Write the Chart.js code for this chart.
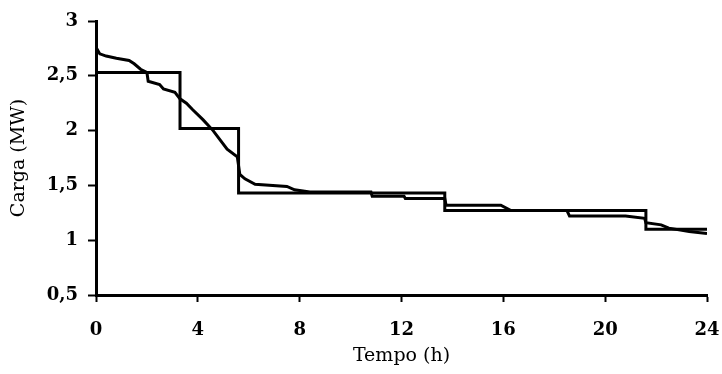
<!DOCTYPE html>
<html>
<head>
<meta charset="utf-8">
<script src="https://cdn.jsdelivr.net/npm/chart.js@4"></script>
<style>
html, body { margin: 0; padding: 0; background: #fff; }
#wrap { width: 722px; height: 374px; }
</style>
</head>
<body>
<div id="wrap"><canvas id="cargaChart" width="722" height="374"></canvas></div>
<script>
// patamares de carga (blocos)
const blocoHoras = [0, 3.3, 5.6, 13.7, 21.6, 24];
const blocoCarga = [2.53, 2.02, 1.43, 1.27, 1.10, 1.10];

// curva de carga
const curvaHoras = [0, 0.15, 0.4, 0.8, 1.3, 1.5, 1.75, 2.0, 2.05, 2.5, 2.65, 3.1, 3.3, 3.55, 3.8, 4.2, 4.6, 5.15, 5.55, 5.65, 5.85, 6.25, 7.5, 7.8, 8.4, 10.8, 10.85, 12.1, 12.15, 13.7, 13.75, 15.9, 16.3, 18.5, 18.6, 20.8, 21.55, 21.6, 22.2, 22.5, 23.3, 24];
const curvaCarga = [2.76, 2.70, 2.68, 2.66, 2.64, 2.61, 2.56, 2.53, 2.45, 2.42, 2.38, 2.35, 2.29, 2.25, 2.19, 2.10, 2.00, 1.83, 1.76, 1.60, 1.56, 1.51, 1.49, 1.46, 1.44, 1.44, 1.40, 1.40, 1.38, 1.38, 1.32, 1.32, 1.27, 1.27, 1.22, 1.22, 1.20, 1.16, 1.14, 1.11, 1.08, 1.06];

const xTicks = [0, 4, 8, 12, 16, 20, 24];
const yTicks = [0.5, 1, 1.5, 2, 2.5, 3];

const toPts = (xs, ys) => xs.map((x, i) => ({ x: x, y: ys[i] }));

const fonte = "'DejaVu Serif', 'Liberation Serif', serif";

const ctx = document.getElementById("cargaChart");

new Chart(ctx, {
  type: "line",
  data: {
    datasets: [
      {
        label: "Blocos",
        data: toPts(blocoHoras, blocoCarga),
        stepped: "before",
        borderColor: "#000",
        borderWidth: 3,
        pointRadius: 0,
        fill: false
      },
      {
        label: "Carga",
        data: toPts(curvaHoras, curvaCarga),
        borderColor: "#000",
        borderWidth: 3,
        pointRadius: 0,
        tension: 0,
        fill: false
      }
    ]
  },
  options: {
    responsive: false,
    animation: false,
    layout: { padding: { left: 0, top: 21, right: 15, bottom: 0 } },
    plugins: {
      legend: { display: false },
      tooltip: { enabled: false }
    },
    scales: {
      x: {
        type: "linear",
        min: 0,
        max: 24,
        afterBuildTicks: s => { s.ticks = xTicks.map(v => ({ value: v })); },
        afterFit: s => { s.height = 79; s.paddingLeft = 0; s.paddingRight = 0; },
        grid: { drawOnChartArea: false, drawTicks: true, tickLength: 7, tickWidth: 2, color: "#000" },
        border: { display: true, color: "#000", width: 3 },
        ticks: { color: "#000", padding: 18, maxRotation: 0, font: { family: fonte, size: 18, weight: "bold" } },
        title: { display: true, text: "Tempo (h)", color: "#000", padding: { top: 0, bottom: 7 }, font: { family: fonte, size: 19 } }
      },
      y: {
        type: "linear",
        min: 0.5,
        max: 3,
        afterBuildTicks: s => { s.ticks = yTicks.map(v => ({ value: v })); },
        afterFit: s => { s.width = 96; s.paddingTop = 0; s.paddingBottom = 0; },
        grid: { drawOnChartArea: false, drawTicks: true, tickLength: 8, tickWidth: 2, color: "#000" },
        border: { display: true, color: "#000", width: 3 },
        ticks: {
          color: "#000",
          padding: 10,
          font: { family: fonte, size: 18, weight: "bold" },
          callback: v => String(v).replace(".", ",")
        },
        title: { display: true, text: "Carga (MW)", color: "#000", padding: { top: 8, bottom: 0 }, font: { family: fonte, size: 19 } }
      }
    }
  }
});
</script>
</body>
</html>
